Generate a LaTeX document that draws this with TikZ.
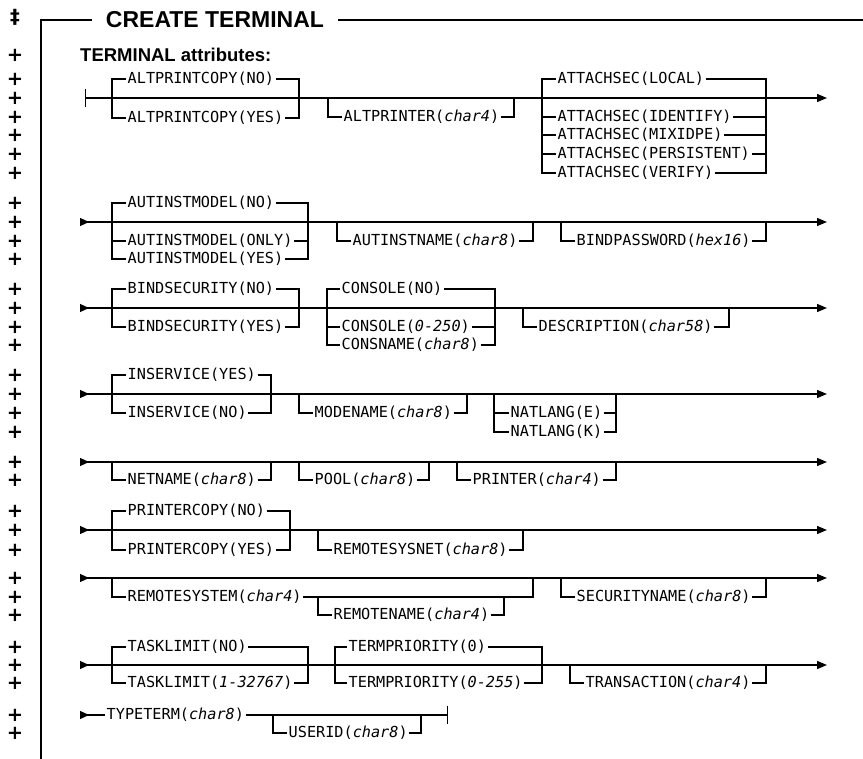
\documentclass[tikz,border=0pt]{standalone}
\usepackage{fontspec}
\setmainfont{Liberation Sans}
\newfontfamily\railfont{DejaVu Sans Mono}
\newfontfamily\markfont{DejaVu Sans}
\usetikzlibrary{arrows.meta}

\tikzset{
  kw/.style={font=\railfont\fontsize{15.2}{18}\selectfont, inner sep=1.5pt, anchor=west},
  rail/.style={line width=1.3pt},
  railin/.style={rail, {Triangle[reversed,length=9pt,width=8pt]}-{Triangle[length=10pt,width=8pt]}},
  revmark/.style={font=\markfont\bfseries\fontsize{19.5}{19.5}\selectfont, inner sep=0pt},
}

\begin{document}
\begin{tikzpicture}[x=1pt, y=-1pt]
    \useasboundingbox (0,0) rectangle (863,759);

    % frame and headings
    \node[inner xsep=14pt, inner ysep=0pt, font=\bfseries\fontsize{23}{26}\selectfont] (title) at (215,20) {CREATE TERMINAL};
    \node[anchor=west, inner sep=0pt, font=\bfseries\fontsize{18.5}{22}\selectfont] (attrs) at (80,55) {TERMINAL attributes:};
    \coordinate (frBot) at (41,759);
    \coordinate (frEnd) at (863,20);
    \draw[line width=1.6pt] (frBot) |- (title.west);
    \draw[line width=1.6pt] (title.east) -- (frEnd);

    \node[revmark] (dag) at (15,17) {‡};
    \foreach \y in {55,79,98,117,135,154,173,203,222,241,259,289,308,327,345,375,394,413,432,462,480,511,530,550,578,597,615,647,665,683,715,733}
        \node[revmark] (rev\y) at (15,\y) {+};

    % row 1
    \coordinate (r1s) at (85,98);
    \coordinate (r1e) at (827,98);
    \draw[rail, {Bar[width=18pt]}-{Triangle[length=10pt,width=8pt]}] (r1s) -- (r1e);

    \coordinate (apcL) at (112,98);
    \coordinate (apcR) at (299,98);
    \node[kw] (apcNo) at (126,79) {ALTPRINTCOPY(NO)};
    \node[kw] (apcYes) at (126,118) {ALTPRINTCOPY(YES)};
    \draw[rail] (apcL) |- (apcNo.west) (apcNo.east) -| (apcR);
    \draw[rail] (apcL) |- (apcYes.west) (apcYes.east) -| (apcR);

    \coordinate (apL) at (328,98);
    \coordinate (apR) at (514,98);
    \node[kw] (altPrinter) at (342,117) {ALTPRINTER(\textit{char4})};
    \draw[rail] (apL) |- (altPrinter.west) (altPrinter.east) -| (apR);

    \coordinate (asL) at (542,98);
    \coordinate (asR) at (766,98);
    \node[kw] (asLocal) at (556,79) {ATTACHSEC(LOCAL)};
    \node[kw] (asIdent) at (556,117) {ATTACHSEC(IDENTIFY)};
    \node[kw] (asMix) at (556,135) {ATTACHSEC(MIXIDPE)};
    \node[kw] (asPers) at (556,154) {ATTACHSEC(PERSISTENT)};
    \node[kw] (asVerify) at (556,173) {ATTACHSEC(VERIFY)};
    \draw[rail] (asL) |- (asLocal.west) (asLocal.east) -| (asR);
    \draw[rail] (asL) |- (asVerify.west) (asVerify.east) -| (asR);
    \draw[rail] (asL |- asIdent.west) -- (asIdent.west) (asIdent.east) -| (asR);
    \draw[rail] (asL |- asMix.west) -- (asMix.west) (asMix.east) -| (asR);
    \draw[rail] (asL |- asPers.west) -- (asPers.west) (asPers.east) -| (asR);

    % row 2
    \coordinate (r2s) at (80,222);
    \coordinate (r2e) at (827,222);
    \draw[railin] (r2s) -- (r2e);

    \coordinate (aimL) at (112,222);
    \coordinate (aimR) at (308,222);
    \node[kw] (aimNo) at (126,203) {AUTINSTMODEL(NO)};
    \node[kw] (aimOnly) at (126,241) {AUTINSTMODEL(ONLY)};
    \node[kw] (aimYes) at (126,259) {AUTINSTMODEL(YES)};
    \draw[rail] (aimL) |- (aimNo.west) (aimNo.east) -| (aimR);
    \draw[rail] (aimL) |- (aimYes.west) (aimYes.east) -| (aimR);
    \draw[rail] (aimL |- aimOnly.west) -- (aimOnly.west) (aimOnly.east) -| (aimR);

    \coordinate (ainL) at (337,222);
    \coordinate (ainR) at (533,222);
    \node[kw] (autInstName) at (351,241) {AUTINSTNAME(\textit{char8})};
    \draw[rail] (ainL) |- (autInstName.west) (autInstName.east) -| (ainR);

    \coordinate (bpL) at (561,222);
    \coordinate (bpR) at (766,222);
    \node[kw] (bindPwd) at (575,241) {BINDPASSWORD(\textit{hex16})};
    \draw[rail] (bpL) |- (bindPwd.west) (bindPwd.east) -| (bpR);

    % row 3
    \coordinate (r3s) at (80,308);
    \coordinate (r3e) at (827,308);
    \draw[railin] (r3s) -- (r3e);

    \coordinate (bsL) at (112,308);
    \coordinate (bsR) at (299,308);
    \node[kw] (bsNo) at (126,289) {BINDSECURITY(NO)};
    \node[kw] (bsYes) at (126,327) {BINDSECURITY(YES)};
    \draw[rail] (bsL) |- (bsNo.west) (bsNo.east) -| (bsR);
    \draw[rail] (bsL) |- (bsYes.west) (bsYes.east) -| (bsR);

    \coordinate (coL) at (327,308);
    \coordinate (coR) at (495,308);
    \node[kw] (coNo) at (340,289) {CONSOLE(NO)};
    \node[kw] (coRange) at (340,327) {CONSOLE(\textit{0-250})};
    \node[kw] (consName) at (340,345) {CONSNAME(\textit{char8})};
    \draw[rail] (coL) |- (coNo.west) (coNo.east) -| (coR);
    \draw[rail] (coL) |- (consName.west) (consName.east) -| (coR);
    \draw[rail] (coL |- coRange.west) -- (coRange.west) (coRange.east) -| (coR);

    \coordinate (deL) at (523,308);
    \coordinate (deR) at (729,308);
    \node[kw] (descr) at (537,327) {DESCRIPTION(\textit{char58})};
    \draw[rail] (deL) |- (descr.west) (descr.east) -| (deR);

    % row 4
    \coordinate (r4s) at (80,394);
    \coordinate (r4e) at (827,394);
    \draw[railin] (r4s) -- (r4e);

    \coordinate (isL) at (112,394);
    \coordinate (isR) at (271,394);
    \node[kw] (isYes) at (126,375) {INSERVICE(YES)};
    \node[kw] (isNo) at (126,413) {INSERVICE(NO)};
    \draw[rail] (isL) |- (isYes.west) (isYes.east) -| (isR);
    \draw[rail] (isL) |- (isNo.west) (isNo.east) -| (isR);

    \coordinate (mnL) at (299,394);
    \coordinate (mnR) at (467,394);
    \node[kw] (modeName) at (313,413) {MODENAME(\textit{char8})};
    \draw[rail] (mnL) |- (modeName.west) (modeName.east) -| (mnR);

    \coordinate (nlL) at (494,394);
    \coordinate (nlR) at (616,394);
    \node[kw] (nlE) at (509,413) {NATLANG(E)};
    \node[kw] (nlK) at (509,432) {NATLANG(K)};
    \draw[rail] (nlL) |- (nlE.west) (nlE.east) -| (nlR);
    \draw[rail] (nlL) |- (nlK.west) (nlK.east) -| (nlR);

    % row 5
    \coordinate (r5s) at (80,462);
    \coordinate (r5e) at (827,462);
    \draw[railin] (r5s) -- (r5e);

    \coordinate (nnL) at (112,462);
    \coordinate (nnR) at (271,462);
    \node[kw] (netName) at (126,480) {NETNAME(\textit{char8})};
    \draw[rail] (nnL) |- (netName.west) (netName.east) -| (nnR);

    \coordinate (poL) at (299,462);
    \coordinate (poR) at (429,462);
    \node[kw] (pool) at (313,480) {POOL(\textit{char8})};
    \draw[rail] (poL) |- (pool.west) (pool.east) -| (poR);

    \coordinate (prL) at (457,462);
    \coordinate (prR) at (616,462);
    \node[kw] (printer) at (471,480) {PRINTER(\textit{char4})};
    \draw[rail] (prL) |- (printer.west) (printer.east) -| (prR);

    % row 6
    \coordinate (r6s) at (80,530);
    \coordinate (r6e) at (827,530);
    \draw[railin] (r6s) -- (r6e);

    \coordinate (pcL) at (112,530);
    \coordinate (pcR) at (290,530);
    \node[kw] (pcNo) at (126,511) {PRINTERCOPY(NO)};
    \node[kw] (pcYes) at (126,550) {PRINTERCOPY(YES)};
    \draw[rail] (pcL) |- (pcNo.west) (pcNo.east) -| (pcR);
    \draw[rail] (pcL) |- (pcYes.west) (pcYes.east) -| (pcR);

    \coordinate (rnetL) at (318,530);
    \coordinate (rnetR) at (523,530);
    \node[kw] (remSysNet) at (332,550) {REMOTESYSNET(\textit{char8})};
    \draw[rail] (rnetL) |- (remSysNet.west) (remSysNet.east) -| (rnetR);

    % row 7
    \coordinate (r7s) at (80,578);
    \coordinate (r7e) at (827,578);
    \draw[railin] (r7s) -- (r7e);

    \coordinate (rsL) at (112,578);
    \coordinate (rsR) at (533,578);
    \node[kw] (remSys) at (126,597) {REMOTESYSTEM(\textit{char4})};
    \draw[rail] (rsL) |- (remSys.west) (remSys.east) -| (rsR);

    \coordinate (rnL) at (318,597);
    \coordinate (rnR) at (504,597);
    \node[kw] (remName) at (332,615) {REMOTENAME(\textit{char4})};
    \draw[rail] (rnL) |- (remName.west) (remName.east) -| (rnR);

    \coordinate (snL) at (561,578);
    \coordinate (snR) at (766,578);
    \node[kw] (secName) at (575,597) {SECURITYNAME(\textit{char8})};
    \draw[rail] (snL) |- (secName.west) (secName.east) -| (snR);

    % row 8
    \coordinate (r8s) at (80,665);
    \coordinate (r8e) at (827,665);
    \draw[railin] (r8s) -- (r8e);

    \coordinate (tlL) at (112,665);
    \coordinate (tlR) at (308,665);
    \node[kw] (tlNo) at (126,647) {TASKLIMIT(NO)};
    \node[kw] (tlRange) at (126,683) {TASKLIMIT(\textit{1-32767})};
    \draw[rail] (tlL) |- (tlNo.west) (tlNo.east) -| (tlR);
    \draw[rail] (tlL) |- (tlRange.west) (tlRange.east) -| (tlR);

    \coordinate (tpL) at (335,665);
    \coordinate (tpR) at (542,665);
    \node[kw] (tpZero) at (347,647) {TERMPRIORITY(0)};
    \node[kw] (tpRange) at (347,683) {TERMPRIORITY(\textit{0-255})};
    \draw[rail] (tpL) |- (tpZero.west) (tpZero.east) -| (tpR);
    \draw[rail] (tpL) |- (tpRange.west) (tpRange.east) -| (tpR);

    \coordinate (trL) at (570,665);
    \coordinate (trR) at (766,665);
    \node[kw] (transaction) at (584,683) {TRANSACTION(\textit{char4})};
    \draw[rail] (trL) |- (transaction.west) (transaction.east) -| (trR);

    % row 9
    \coordinate (r9s) at (80,715);
    \coordinate (r9e) at (448,715);
    \node[kw] (typeTerm) at (105,715) {TYPETERM(\textit{char8})};
    \draw[rail, {Triangle[reversed,length=9pt,width=8pt]}-] (r9s) -- (typeTerm.west);
    \draw[rail, -{Bar[width=18pt]}] (typeTerm.east) -- (r9e);

    \coordinate (uiL) at (273,715);
    \coordinate (uiR) at (421,715);
    \node[kw] (userId) at (287,733) {USERID(\textit{char8})};
    \draw[rail] (uiL) |- (userId.west) (userId.east) -| (uiR);
\end{tikzpicture}
\end{document}
